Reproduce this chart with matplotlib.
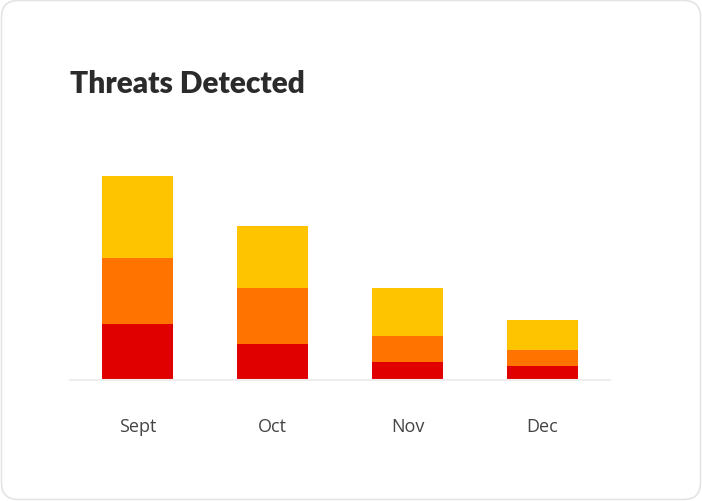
import matplotlib
matplotlib.use('Agg')
import matplotlib.pyplot as plt
from matplotlib.patches import FancyBboxPatch

# données
months = ['Sept', 'Oct', 'Nov', 'Dec']
low = [28, 18, 9, 7]
medium = [33, 28, 13, 8]
high = [41, 31, 24, 15]

colors = ['#e00000', '#ff7300', '#ffc400']

W, H = 702, 502
fig = plt.figure(figsize=(W / 100, H / 100), dpi=100)

# cadre arrondi de la carte
card = FancyBboxPatch((1.5 / W, 1.5 / H), (W - 3) / W, (H - 3) / H,
                      boxstyle='round,pad=0,rounding_size=0.024',
                      transform=fig.transFigure, facecolor='white',
                      edgecolor='#e4e4e4', linewidth=1.2, mutation_aspect=W / H,
                      zorder=-5)
fig.patches.append(card)

ax = fig.add_axes([70 / W, (H - 381) / H, 540 / W, 220 / H])
ax.set_zorder(2)
ax.set_facecolor('none')

x = range(len(months))
bottom2 = [a + b for a, b in zip(low, medium)]
ax.bar(x, low, width=0.533, color=colors[0])
ax.bar(x, medium, width=0.533, bottom=low, color=colors[1])
ax.bar(x, high, width=0.533, bottom=bottom2, color=colors[2])

ax.set_xlim(-0.5, 3.5)
ax.set_ylim(0, 110)
ax.set_yticks([])
ax.set_xticks(list(x))
ax.set_xticklabels(months, fontfamily='Open Sans', fontsize=13, color='#444444')
ax.tick_params(axis='x', length=0, pad=26.5)
for s in ['top', 'right', 'left']:
    ax.spines[s].set_visible(False)
ax.spines['bottom'].set_color('#eeeeee')
ax.spines['bottom'].set_linewidth(1.5)

fig.text(70 / W, 1 - 93 / H, 'Threats Detected', fontfamily='Lato', fontweight='heavy',
         fontsize=21.5, color='#2b2b2b', ha='left', va='baseline')

fig.savefig('out.png', dpi=100)
